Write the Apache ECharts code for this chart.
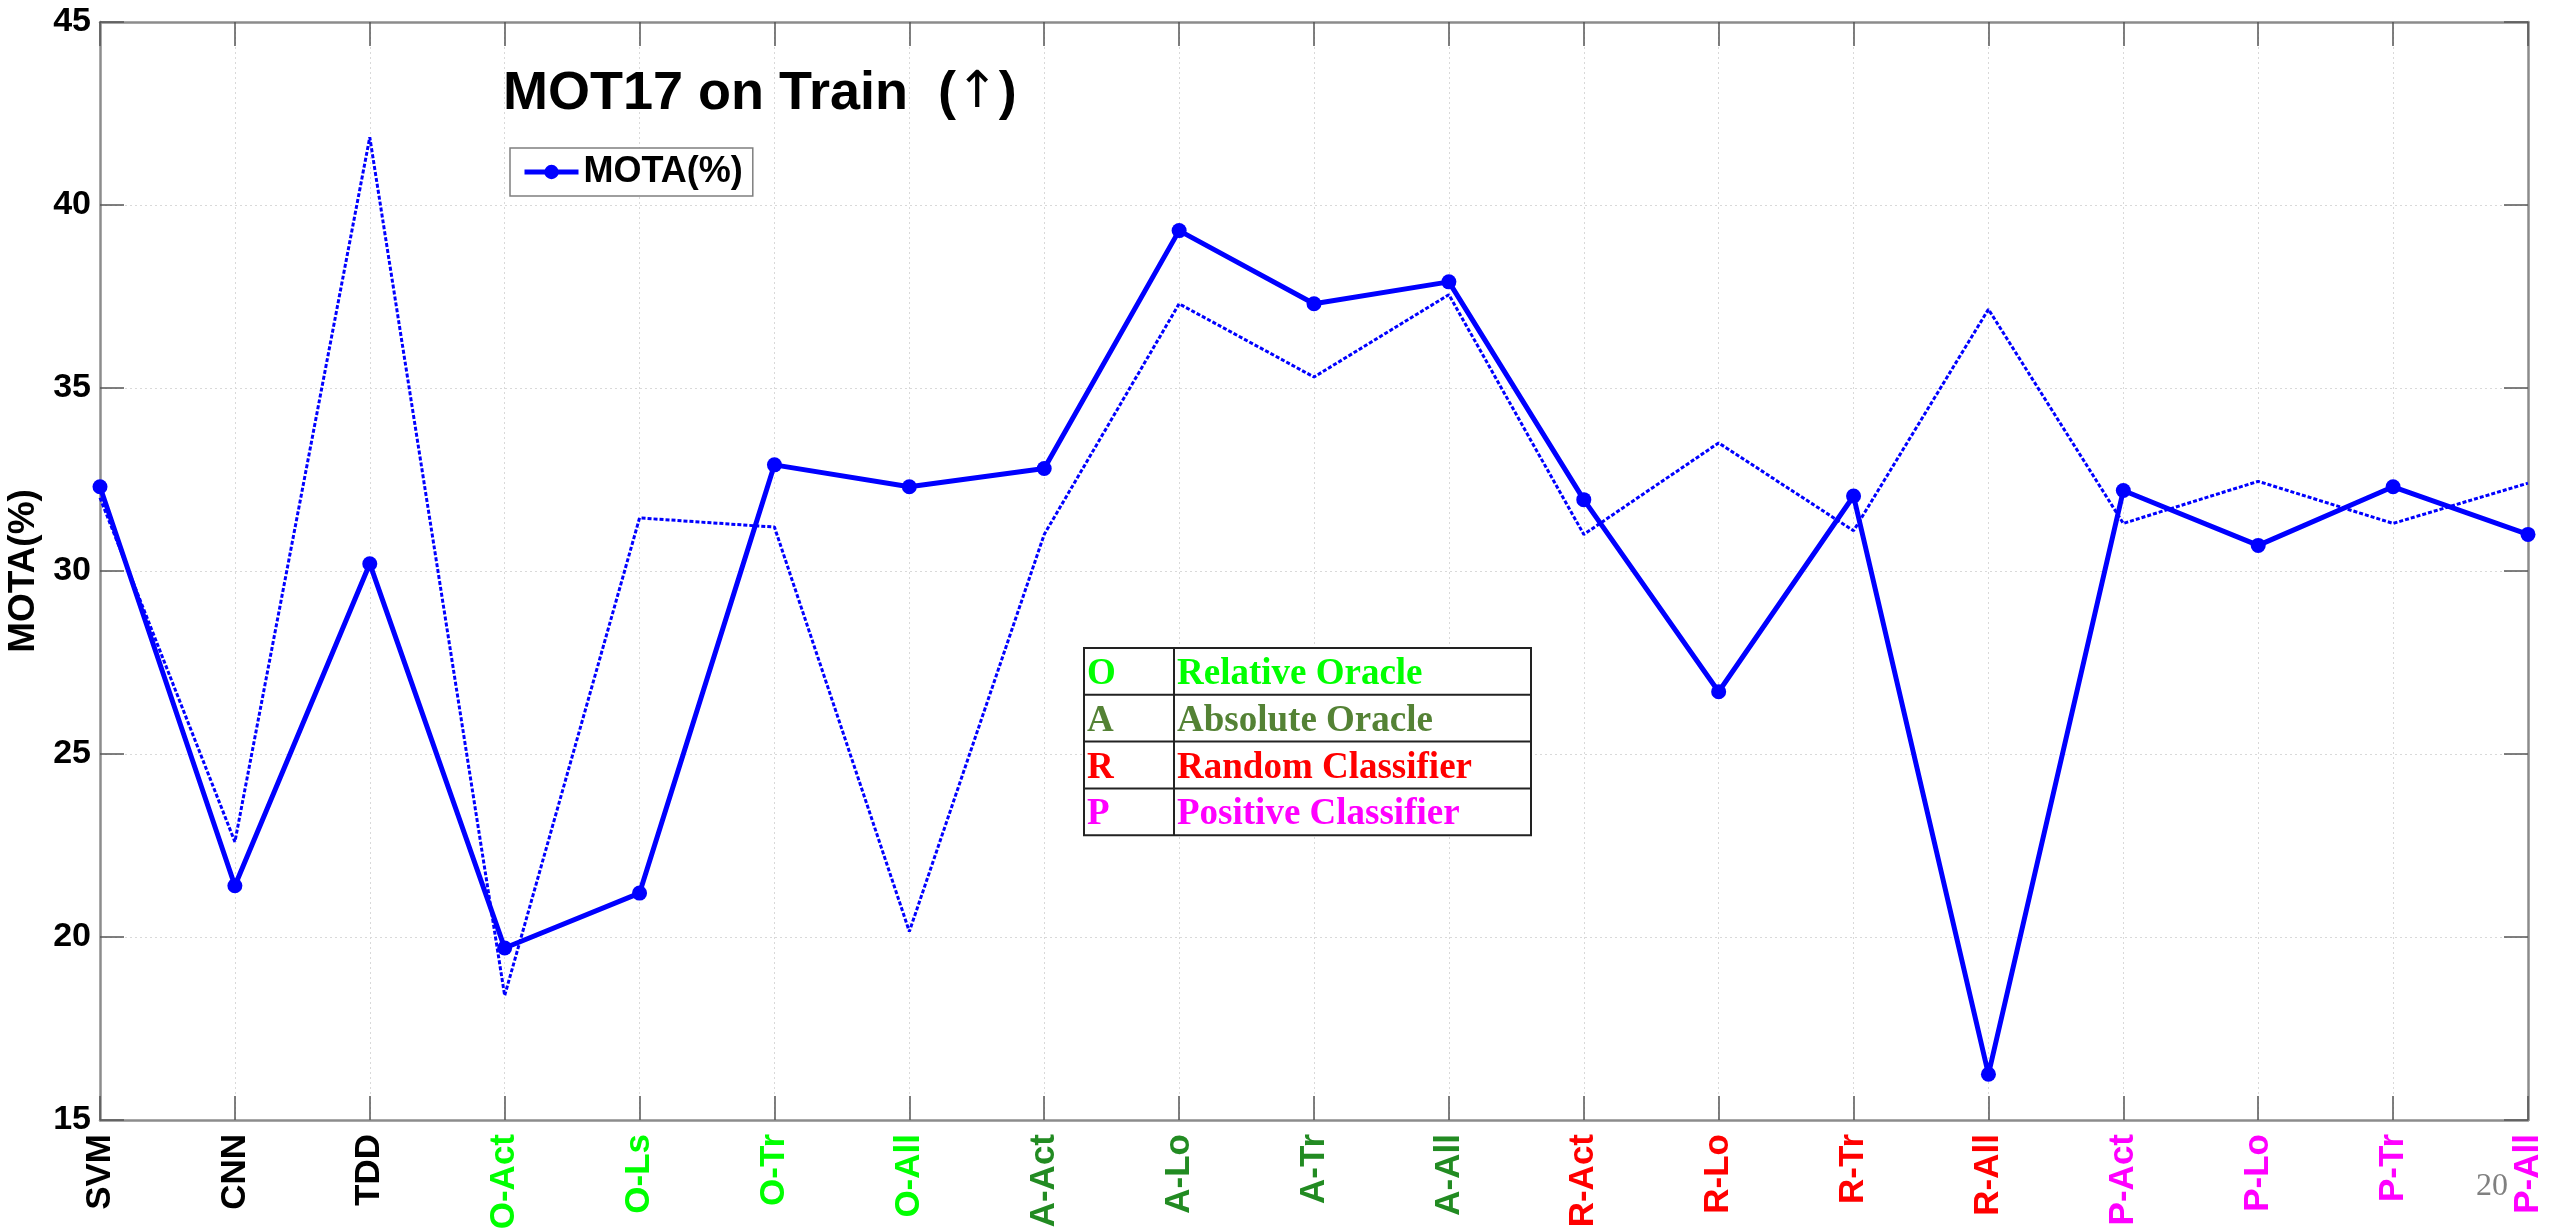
<!DOCTYPE html>
<html><head><meta charset="utf-8">
<script src="https://cdn.jsdelivr.net/npm/echarts@6/dist/echarts.min.js"></script>
<style>html,body{margin:0;padding:0;background:#fff}#c{width:2554px;height:1232px}</style>
</head><body><div id="c"></div>
<script>
const categories = ['SVM','CNN','TDD','O-Act','O-Ls','O-Tr','O-All','A-Act','A-Lo','A-Tr','A-All','R-Act','R-Lo','R-Tr','R-All','P-Act','P-Lo','P-Tr','P-All'];
const labelColors = ['#000000','#000000','#000000','#00ff00','#00ff00','#00ff00','#00ff00','#228b22','#228b22','#228b22','#228b22','#ff0000','#ff0000','#ff0000','#ff0000','#ff00ff','#ff00ff','#ff00ff','#ff00ff'];
const motaSolid = [32.3,21.4,30.2,19.7,21.2,32.9,32.3,32.8,39.3,37.3,37.9,31.95,26.7,32.05,16.25,32.2,30.7,32.3,31.0];
const motaDotted = [32.0,22.6,41.85,18.4,31.45,31.2,20.15,31.0,37.3,35.3,37.55,31.0,33.5,31.1,37.15,31.3,32.45,31.3,32.4];
const yMin = 15, yMax = 45, yStep = 5;
const tableKeys = ['O','A','R','P'];
const tableNames = ['Relative Oracle','Absolute Oracle','Random Classifier','Positive Classifier'];
const tableColors = ['#00ff00','#548235','#ff0000','#ff00ff'];

const SANS = '"Liberation Sans", Arial, Helvetica, sans-serif';
const SERIF = '"Liberation Serif", "Times New Roman", serif';

const chart = echarts.init(document.getElementById('c'), null, {renderer:'canvas'});

const catData = categories.map((c,i)=>({value:c, textStyle:{color:labelColors[i]}}));
const gridLine = {show:true, lineStyle:{color:'#d9d9d9', type:[2,3], width:1}};
const axisLineStyle = {show:true, lineStyle:{color:'#8c8c8c', width:2.5}};
const tickStyle = {show:true, inside:true, length:24, lineStyle:{color:'#555', width:1.5}};

// table graphic
const tX = 1084, tY = 648, tW = 447, rowH = 46.8, colX = 1174;
const tableEls = [];
tableEls.push({type:'rect', shape:{x:tX, y:tY, width:tW, height:rowH*4}, style:{fill:'#fff', stroke:'#222', lineWidth:2}, z:100});
tableEls.push({type:'line', shape:{x1:colX, y1:tY, x2:colX, y2:tY+rowH*4}, style:{stroke:'#222', lineWidth:2}, z:101});
for (let r=1;r<4;r++) tableEls.push({type:'line', shape:{x1:tX, y1:tY+rowH*r, x2:tX+tW, y2:tY+rowH*r}, style:{stroke:'#222', lineWidth:2}, z:101});
tableKeys.forEach((k,r)=>{
  const midY = tY + rowH*r + rowH/2 + 3;
  tableEls.push({type:'text', x:tX+3, y:midY, style:{text:k, fill:tableColors[r], font:'bold 37px '+SERIF, verticalAlign:'middle'}, z:102});
  tableEls.push({type:'text', x:colX+3, y:midY, style:{text:tableNames[r], fill:tableColors[r], font:'bold 37px '+SERIF, verticalAlign:'middle'}, z:102});
});

const option = {
  backgroundColor:'#fff',
  animation:false,
  title:{
    text:'{b|MOT17 on Train  (}{a|↑}{b|)}',
    left:498, top:62,
    textStyle:{rich:{
      b:{fontFamily:SANS, fontWeight:'bold', fontSize:54, color:'#000'},
      a:{fontFamily:'"DejaVu Sans", sans-serif', fontWeight:'normal', fontSize:51, color:'#000'}
    }}
  },
  legend:{
    data:['MOTA(%)'],
    left:510, top:148,
    orient:'horizontal',
    padding:[6,10,6,12],
    borderColor:'#7f7f7f', borderWidth:1.5, backgroundColor:'#fff',
    itemWidth:54, itemHeight:18, itemGap:10,
    lineStyle:{width:5, color:'#0000ff'},
    itemStyle:{color:'#0000ff'},
    textStyle:{fontFamily:SANS, fontWeight:'bold', fontSize:36, color:'#000'}
  },
  grid:{left:100, right:26, top:22, bottom:112, containLabel:false, outerBoundsMode:'none'},
  xAxis:[{
    type:'category', data:catData, boundaryGap:false, position:'bottom',
    axisLine:axisLineStyle, axisTick:Object.assign({interval:0}, tickStyle),
    splitLine:Object.assign({interval:0}, gridLine),
    axisLabel:{interval:0, rotate:90, margin:14, fontFamily:SANS, fontWeight:'bold', fontSize:35}
  },{
    type:'category', data:categories, boundaryGap:false, position:'top',
    axisLine:axisLineStyle, axisTick:Object.assign({interval:0}, tickStyle),
    splitLine:{show:false}, axisLabel:{show:false}
  }],
  yAxis:[{
    type:'value', min:yMin, max:yMax, interval:yStep, position:'left',
    name:'MOTA(%)', nameLocation:'middle', nameRotate:90, nameGap:56,
    nameTextStyle:{fontFamily:SANS, fontWeight:'bold', fontSize:37, color:'#000'},
    axisLine:axisLineStyle, axisTick:tickStyle, splitLine:gridLine,
    axisLabel:{margin:9, fontFamily:SANS, fontWeight:'bold', fontSize:34, color:'#000'}
  },{
    type:'value', min:yMin, max:yMax, interval:yStep, position:'right',
    axisLine:axisLineStyle, axisTick:tickStyle, splitLine:{show:false}, axisLabel:{show:false}
  }],
  series:[{
    name:'Dotted', type:'line', data:motaDotted, xAxisIndex:0, yAxisIndex:0,
    symbol:'none', z:2,
    lineStyle:{color:'#0000ff', width:3, type:[4,2]}, itemStyle:{color:'#0000ff'}
  },{
    name:'MOTA(%)', type:'line', data:motaSolid, xAxisIndex:0, yAxisIndex:0,
    symbol:'circle', symbolSize:15, showSymbol:true, z:3,
    lineStyle:{color:'#0000ff', width:5},
    itemStyle:{color:'#0000ff', borderColor:'#0000ff', borderWidth:0}
  }],
  graphic:[
    {type:'group', children:tableEls},
    {type:'text', x:2476, y:1203, style:{text:'20', fill:'#808080', font:'32px '+SERIF, verticalAlign:'bottom'}, z:50}
  ]
};
chart.setOption(option);
</script>
</body></html>
